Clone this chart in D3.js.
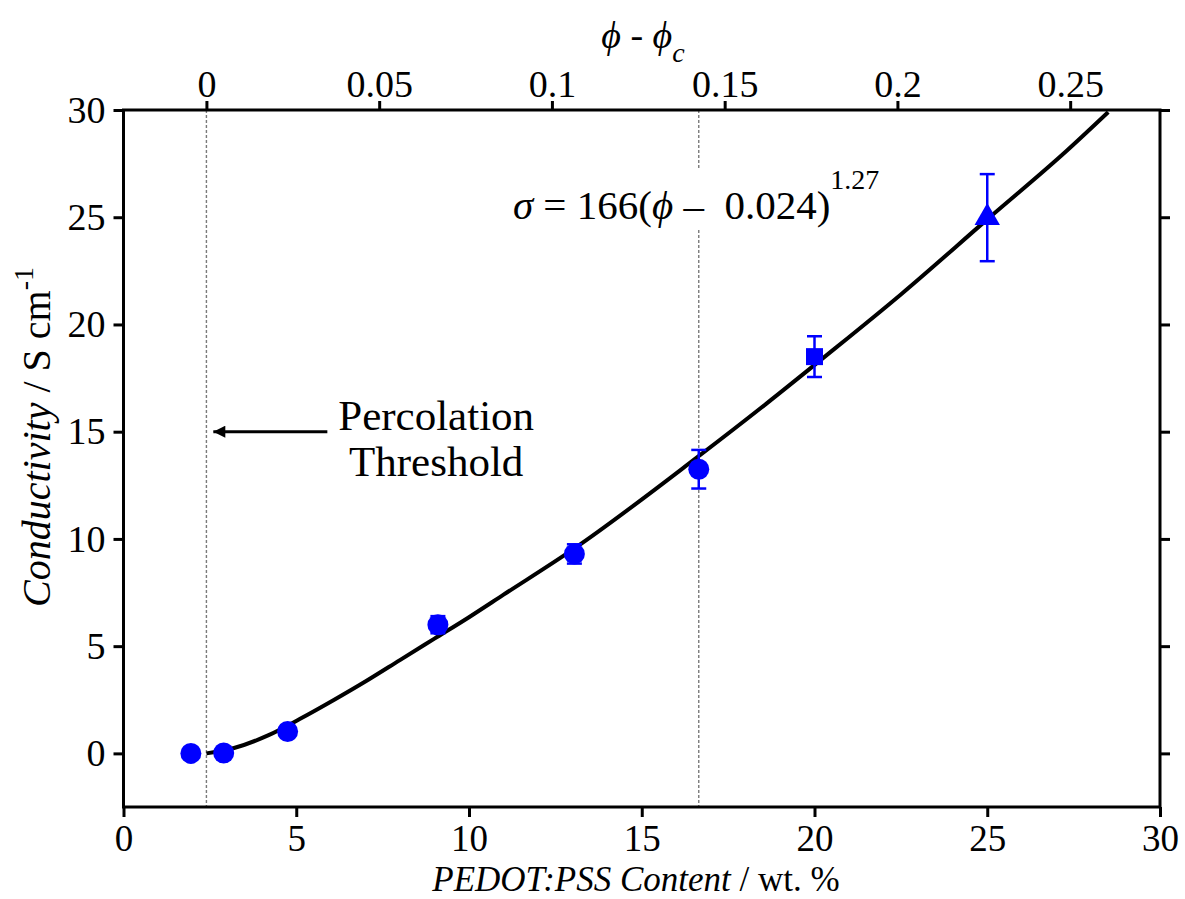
<!DOCTYPE html>
<html>
<head>
<meta charset="utf-8">
<script src="https://cdn.jsdelivr.net/npm/d3@7"></script>
<style>
  body { margin: 0; background: #fff; }
  svg text { font-family: "Liberation Serif", "Times New Roman", serif; fill: #000; white-space: pre; }
  .axis line { stroke: #000; stroke-width: 3; }
  .axis path { display: none; }
  .axis text { font-size: 38px; font-family: "Liberation Serif", serif; }
  .axis.bottom text { font-size: 37px; }
</style>
</head>
<body>
<div id="chart"></div>
<script>
const width = 1185,
    height = 899,
    margin = ({ top: 110, right: 25, bottom: 92, left: 123.5 });

// measured points: PEDOT:PSS content (wt. %) vs conductivity (S/cm)
const content = [1.95, 2.9, 4.75, 9.1, 13.05, 16.65, 20.0, 25.0];
const conductivity = [0, 0.02, 1.02, 6.0, 9.3, 13.25, 18.5, 24.98];
const errors = [0, 0, 0, 0.4, 0.45, 0.9, 0.95, 2.03];
const markers = ["circle", "circle", "circle", "circle", "circle", "circle", "square", "triangle"];

// fitted curve, points
const fitContent = [2.4, 3.2, 4.2, 5.1, 6.1, 7.0, 8.0, 9.0, 10.0, 11.0, 13.0, 16.6, 18.6, 20.3, 22.5, 25.0, 27.3, 28.5];
const fitSigma = [0, 0.25, 0.85, 1.6, 2.5, 3.35, 4.35, 5.35, 6.35, 7.4, 9.5, 13.8, 16.3, 18.5, 21.4, 24.9, 28.1, 29.9];

// dotted guide lines (wt. %)
const guides = [2.4, 16.65];

const xTicks = [0, 5, 10, 15, 20, 25, 30];
const yTicks = [0, 5, 10, 15, 20, 25, 30];
const topTicks = [0, 0.05, 0.1, 0.15, 0.2, 0.25];
const phiC = 0.024;

const svg = d3.select("#chart")
    .append("svg")
    .attr("width", width)
    .attr("height", height)
    .attr("viewBox", [0, 0, width, height]);

const x = d3.scaleLinear()
    .domain([0, 30])
    .range([margin.left, width - margin.right]);

const y = d3.scaleLinear()
    .domain([-2.5, 30])
    .range([height - margin.bottom, margin.top]);

// top axis is phi - phi_c, with phi = wt. % / 100
const xTop = d3.scaleLinear()
    .domain([0 / 100 - phiC, 30 / 100 - phiC])
    .range(x.range());

// guide lines
svg.append("g")
  .selectAll("line")
  .data(guides)
  .join("line")
    .attr("x1", d => x(d))
    .attr("x2", d => x(d))
    .attr("y1", y(30))
    .attr("y2", y(-2.5))
    .attr("stroke", "#7a7a7a")
    .attr("stroke-width", 1.4)
    .attr("stroke-dasharray", "3,2");

// equation, with a white box that breaks the guide line
const eq = svg.append("text")
    .attr("x", x(11.27))
    .attr("y", y(24.9))
    .attr("font-size", 41);
eq.append("tspan").attr("font-style", "italic").text("σ");
eq.append("tspan").text(" = 166(");
eq.append("tspan").attr("font-style", "italic").text("ϕ");
eq.append("tspan").text(" –  0.024)");
eq.append("tspan").attr("font-size", 28).attr("dy", -30).text("1.27");
const bb = eq.node().getBBox();
svg.insert("rect", "text")
    .attr("x", bb.x)
    .attr("y", bb.y + 4)
    .attr("width", bb.width)
    .attr("height", bb.height - 4)
    .attr("fill", "#fff");

// axes
svg.append("g")
    .attr("class", "axis bottom")
    .attr("transform", `translate(0,${y(-2.5)})`)
    .call(d3.axisBottom(x).tickValues(xTicks).tickSize(10).tickPadding(8).tickSizeOuter(0));

svg.append("g")
    .attr("class", "axis")
    .attr("transform", `translate(0,${y(30)})`)
    .call(d3.axisTop(xTop).tickValues(topTicks).tickSize(9).tickPadding(4).tickSizeOuter(0)
        .tickFormat(d => String(+d.toFixed(2))));

svg.append("g")
    .attr("class", "axis")
    .attr("transform", `translate(${x(0)},0)`)
    .call(d3.axisLeft(y).tickValues(yTicks).tickSize(10).tickPadding(8).tickSizeOuter(0));

svg.append("g")
    .attr("class", "axis")
    .attr("transform", `translate(${x(30)},0)`)
    .call(d3.axisRight(y).tickValues(yTicks).tickSize(10).tickFormat("").tickSizeOuter(0));

// frame
svg.append("rect")
    .attr("x", x(0))
    .attr("y", y(30))
    .attr("width", x(30) - x(0))
    .attr("height", y(-2.5) - y(30))
    .attr("fill", "none")
    .attr("stroke", "#000")
    .attr("stroke-width", 3);

// fit curve
const line = d3.line()
    .x(d => x(d[0]))
    .y(d => y(d[1]))
    .curve(d3.curveMonotoneX);

svg.append("path")
    .datum(d3.zip(fitContent, fitSigma))
    .attr("d", line)
    .attr("fill", "none")
    .attr("stroke", "#000")
    .attr("stroke-width", 4)
    .attr("stroke-linejoin", "round");

// error bars
const pts = content.map((c, i) => ({ c, s: conductivity[i], e: errors[i], m: markers[i] }));
const eb = svg.append("g")
    .attr("stroke", "#0000ff")
    .attr("stroke-width", 2.5)
  .selectAll("g")
  .data(pts.filter(d => d.e > 0))
  .join("g");
eb.append("line")
    .attr("x1", d => x(d.c)).attr("x2", d => x(d.c))
    .attr("y1", d => y(d.s - d.e)).attr("y2", d => y(d.s + d.e));
eb.append("line")
    .attr("x1", d => x(d.c) - 7.5).attr("x2", d => x(d.c) + 7.5)
    .attr("y1", d => y(d.s + d.e)).attr("y2", d => y(d.s + d.e));
eb.append("line")
    .attr("x1", d => x(d.c) - 7.5).attr("x2", d => x(d.c) + 7.5)
    .attr("y1", d => y(d.s - d.e)).attr("y2", d => y(d.s - d.e));

// markers
const symbols = {
    circle: d3.symbol(d3.symbolCircle, 346),
    square: d3.symbol(d3.symbolSquare, 289),
    triangle: d3.symbol(d3.symbolTriangle, 280)
};
svg.append("g")
  .selectAll("path")
  .data(pts)
  .join("path")
    .attr("transform", d => `translate(${x(d.c)},${y(d.s)})`)
    .attr("d", d => symbols[d.m]())
    .attr("fill", "#0000ff");

// percolation threshold annotation
svg.append("defs").append("marker")
    .attr("id", "arrow")
    .attr("viewBox", "0 0 10 10")
    .attr("refX", 10).attr("refY", 5)
    .attr("markerWidth", 5.5).attr("markerHeight", 4)
    .attr("markerUnits", "strokeWidth")
    .attr("orient", "auto")
  .append("path")
    .attr("d", "M0,0L10,5L0,10Z")
    .attr("fill", "#000");

svg.append("line")
    .attr("x1", x(5.9)).attr("x2", x(2.6))
    .attr("y1", y(15.0)).attr("y2", y(15.0))
    .attr("stroke", "#000")
    .attr("stroke-width", 3)
    .attr("marker-end", "url(#arrow)");

const perc = svg.append("text")
    .attr("text-anchor", "middle")
    .attr("font-size", 43);
perc.append("tspan").attr("x", x(9.05)).attr("y", y(15.1)).text("Percolation");
perc.append("tspan").attr("x", x(9.05)).attr("y", y(12.95)).text("Threshold");

// axis titles
const xl = svg.append("text")
    .attr("text-anchor", "middle")
    .attr("x", 636)
    .attr("y", 891)
    .attr("font-size", 35);
xl.append("tspan").attr("font-style", "italic").text("PEDOT:PSS Content");
xl.append("tspan").text(" / wt. %");

const yl = svg.append("text")
    .attr("text-anchor", "middle")
    .attr("transform", "translate(50,437) rotate(-90)")
    .attr("font-size", 40);
yl.append("tspan").attr("font-style", "italic").text("Conductivity");
yl.append("tspan").text(" / S cm");
yl.append("tspan").attr("font-size", 28).attr("dy", -17).text("-1");

const tl = svg.append("text")
    .attr("text-anchor", "middle")
    .attr("x", 643)
    .attr("y", 48)
    .attr("font-size", 38)
    .attr("font-style", "italic");
tl.append("tspan").text("ϕ - ϕ");
tl.append("tspan").attr("font-size", 28).attr("dy", 14).text("c");
</script>
</body>
</html>
